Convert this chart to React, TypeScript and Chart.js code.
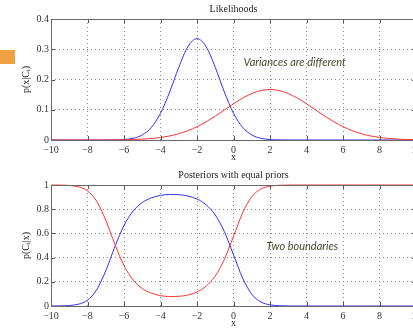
import React, { useEffect, useRef } from "react";
import { Chart, registerables } from "chart.js";

Chart.register(...registerables);

const xValues = [
  -10, -9.5, -9, -8.5, -8, -7.5, -7, -6.5, -6, -5.5, -5, -4.5, -4, -3.5, -3, -2.5, -2, -1.5, -1, -0.5,
  0, 0.5, 1, 1.5, 2, 2.5, 3, 3.5, 4, 4.5, 5, 5.5, 6, 6.5, 7, 7.5, 8, 8.5, 9, 9.5, 10,
];
const likelihoodC1 = [
  0, 0, 0, 0, 0.000002, 0.000014, 0.00008, 0.00039, 0.00162, 0.00565, 0.0167, 0.0418, 0.0884, 0.1584,
  0.2402, 0.3084, 0.335, 0.3084, 0.2402, 0.1584, 0.0884, 0.0418, 0.0167, 0.00565, 0.00162, 0.00039,
  0.00008, 0.000014, 0.000002, 0, 0, 0, 0, 0, 0, 0, 0, 0, 0, 0, 0,
];
const likelihoodC2 = [
  0.000001, 0.0000027, 0.0000068, 0.0000167, 0.00004, 0.00009, 0.000196, 0.000406, 0.000807, 0.00154,
  0.00282, 0.00494, 0.00831, 0.0134, 0.0208, 0.0309, 0.044, 0.0602, 0.0788, 0.0992, 0.1196, 0.1384, 0.1535,
  0.1635, 0.167, 0.1635, 0.1535, 0.1384, 0.1196, 0.0992, 0.0788, 0.0602, 0.044, 0.0309, 0.0208, 0.0134,
  0.0083, 0.0049, 0.0028, 0.0015, 0.0008,
];
const posteriorC1 = [
  0.0002, 0.0009, 0.0038, 0.0148, 0.0487, 0.1335, 0.291, 0.49, 0.666, 0.785, 0.855, 0.894, 0.914, 0.922,
  0.92, 0.909, 0.884, 0.836, 0.752, 0.614, 0.424, 0.231, 0.0976, 0.0333, 0.0095, 0.0024, 0.0005, 0.0001,
  0, 0, 0, 0, 0, 0, 0, 0, 0, 0, 0, 0, 0,
];
const posteriorC2 = [
  0.9998, 0.9991, 0.9962, 0.9852, 0.9513, 0.8665, 0.709, 0.51, 0.334, 0.215, 0.145, 0.106, 0.086, 0.078,
  0.08, 0.091, 0.116, 0.164, 0.248, 0.386, 0.576, 0.769, 0.9024, 0.9667, 0.9905, 0.9976, 0.9995, 0.9999,
  1, 1, 1, 1, 1, 1, 1, 1, 1, 1, 1, 1, 1,
];
const xTicks = [-10, -8, -6, -4, -2, 0, 2, 4, 6, 8, 10];
const likelihoodTicks = [0, 0.1, 0.2, 0.3, 0.4];
const posteriorTicks = [0, 0.2, 0.4, 0.6, 0.8, 1];

const BLUE = "#3030ff";
const RED = "#ff3434";
const SERIF = "'Liberation Serif', 'Times New Roman', serif";

const fmt = (v: number) => String(v).replace("-", "\u2212");

function framePlugin(title: string, note: string, noteX: number, noteY: number) {
  return {
    id: "matlabFrame",
    afterDatasetsDraw(chart: any) {
      const { ctx, chartArea: a, scales } = chart;
      const xs = scales.x;
      const ys = scales.y;
      ctx.save();
      ctx.setLineDash([]);
      ctx.lineWidth = 1;
      ctx.strokeStyle = "#555";
      ctx.beginPath();
      xs.ticks.forEach((t: any) => {
        const px = Math.round(xs.getPixelForValue(t.value)) + 0.5;
        ctx.moveTo(px, a.top);
        ctx.lineTo(px, a.top + 4);
        ctx.moveTo(px, a.bottom);
        ctx.lineTo(px, a.bottom - 4);
      });
      ys.ticks.forEach((t: any) => {
        const py = Math.round(ys.getPixelForValue(t.value)) + 0.5;
        ctx.moveTo(a.left, py);
        ctx.lineTo(a.left + 4, py);
        ctx.moveTo(a.right, py);
        ctx.lineTo(a.right - 4, py);
      });
      ctx.stroke();
      ctx.strokeStyle = "#6a6a6a";
      ctx.strokeRect(
        Math.round(a.left) + 0.5,
        Math.round(a.top) + 0.5,
        Math.round(a.right - a.left),
        Math.round(a.bottom - a.top)
      );
      // panel title, centred over the plot area
      ctx.font = `10px ${SERIF}`;
      ctx.fillStyle = "#222";
      ctx.textAlign = "center";
      ctx.textBaseline = "middle";
      ctx.fillText(title, (a.left + a.right) / 2, a.top - 10);
      // annotation
      ctx.font = "italic 11px Lato, 'Open Sans', sans-serif";
      ctx.fillStyle = "#4a4a35";
      ctx.textBaseline = "middle";
      ctx.textAlign = "left";
      ctx.fillText(note, xs.getPixelForValue(noteX), ys.getPixelForValue(noteY));
      ctx.restore();
    },
  };
}

type PanelProps = {
  title: string;
  yTitle: string;
  yTicks: number[];
  blue: number[];
  red: number[];
  note: string;
  noteX: number;
  noteY: number;
};

function Panel({ title, yTitle, yTicks, blue, red, note, noteX, noteY }: PanelProps) {
  const ref = useRef<HTMLCanvasElement>(null);
  useEffect(() => {
    const line = (vals: number[], color: string) => ({
      data: xValues.map((x, i) => ({ x, y: vals[i] })),
      borderColor: color,
      backgroundColor: color,
      borderWidth: 1,
      pointRadius: 0,
      fill: false,
      cubicInterpolationMode: "monotone" as const,
      clip: 4,
    });
    const font = { family: SERIF, size: 10, weight: "normal" as const };
    const chart = new Chart(ref.current!, {
      type: "line",
      data: { datasets: [line(red, RED), line(blue, BLUE)] },
      options: {
        responsive: false,
        animation: false,
        devicePixelRatio: 1,
        layout: { padding: { top: 19, left: 0, right: 0, bottom: 0 }, autoPadding: false },
        plugins: {
          legend: { display: false },
          tooltip: { enabled: false },
          title: { display: false },
        },
        scales: {
          x: {
            type: "linear",
            min: xTicks[0],
            max: xTicks[xTicks.length - 1],
            afterBuildTicks: (s: any) => {
              s.ticks = xTicks.map((v) => ({ value: v }));
            },
            afterFit: (s: any) => {
              s.height = 26;
              s.paddingRight = 0;
              s.paddingLeft = 0;
            },
            grid: { color: "#8a8a8a", drawTicks: false, lineWidth: 1 },
            border: { display: false, dash: [1, 3] },
            ticks: {
              padding: 4,
              font,
              color: "#333",
              maxRotation: 0,
              autoSkip: false,
              callback: (v: any) => fmt(Number(v)),
            },
            title: { display: true, text: "x", font, color: "#222", padding: { top: 0, bottom: 3 } },
          },
          y: {
            type: "linear",
            min: yTicks[0],
            max: yTicks[yTicks.length - 1],
            afterBuildTicks: (s: any) => {
              s.ticks = yTicks.map((v) => ({ value: v }));
            },
            afterFit: (s: any) => {
              s.width = 51;
              s.paddingTop = 0;
              s.paddingBottom = 0;
            },
            grid: { color: "#8a8a8a", drawTicks: false, lineWidth: 1 },
            border: { display: false, dash: [1, 3] },
            ticks: {
              padding: 2,
              font,
              color: "#333",
              autoSkip: false,
              callback: (v: any) => fmt(Number(v)),
            },
            title: { display: true, text: yTitle, font, color: "#222", padding: { top: 20, bottom: 0 } },
          },
        },
      },
      plugins: [framePlugin(title, note, noteX, noteY)],
    });
    return () => chart.destroy();
  }, []);
  return <canvas ref={ref} width={416} height={166} style={{ display: "block" }} />;
}

export default function App() {
  return (
    <div
      style={{
        position: "fixed",
        left: 0,
        top: 0,
        width: 413,
        height: 332,
        overflow: "hidden",
        background: "#fff",
      }}
    >
      <div style={{ position: "absolute", left: 0, top: 0 }}>
        <Panel
          title="Likelihoods"
          yTitle="p(x|Cᵢ)"
          yTicks={likelihoodTicks}
          blue={likelihoodC1}
          red={likelihoodC2}
          note="Variances are different"
          noteX={0.55}
          noteY={0.257}
        />
      </div>
      <div style={{ position: "absolute", left: 0, top: 166 }}>
        <Panel
          title="Posteriors with equal priors"
          yTitle="p(Cᵢ|x)"
          yTicks={posteriorTicks}
          blue={posteriorC1}
          red={posteriorC2}
          note="Two boundaries"
          noteX={1.8}
          noteY={0.493}
        />
      </div>
      <div
        style={{
          position: "absolute",
          left: 0,
          top: 50,
          width: 15,
          height: 14,
          background: "#f0a243",
        }}
      />
    </div>
  );
}
